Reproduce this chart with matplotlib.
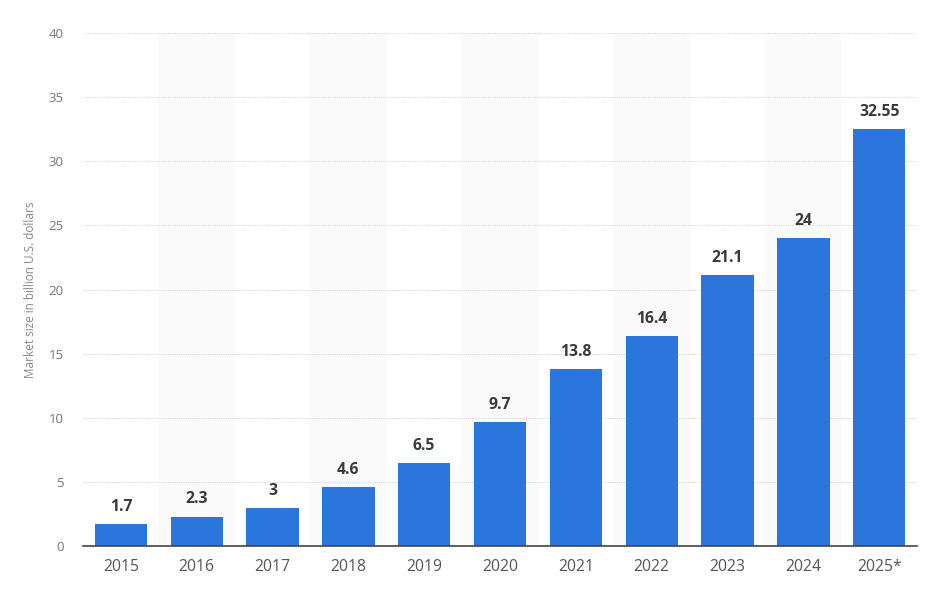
import matplotlib
matplotlib.use("Agg")
import matplotlib.pyplot as plt

years = ["2015", "2016", "2017", "2018", "2019", "2020", "2021", "2022", "2023", "2024", "2025*"]
values = [1.7, 2.3, 3, 4.6, 6.5, 9.7, 13.8, 16.4, 21.1, 24, 32.55]
labels = ["1.7", "2.3", "3", "4.6", "6.5", "9.7", "13.8", "16.4", "21.1", "24", "32.55"]
yticks = [0, 5, 10, 15, 20, 25, 30, 35, 40]

plt.rcParams['font.family'] = ['Open Sans', 'DejaVu Sans']

fig = plt.figure(figsize=(9.32, 5.97), dpi=100)
ax = fig.add_axes([0.089, 0.0854, 0.895, 0.8593])

x = list(range(len(years)))
for i in x:
    if i % 2 == 1:
        ax.axvspan(i - 0.5, i + 0.5, color="#fafafa", zorder=0, lw=0)

ax.bar(x, values, width=0.69, color="#2a76dd", zorder=3)
for i, (v, t) in enumerate(zip(values, labels)):
    ax.annotate(t, (i, v), xytext=(0, 6.5), textcoords="offset points",
                ha="center", va="bottom", fontsize=11.3, fontweight="bold", color="#3a3a3a")

ax.set_xlim(-0.5, len(years) - 0.5)
ax.set_ylim(0, 40)
ax.set_yticks(yticks)
ax.set_yticklabels([str(t) for t in yticks])
ax.set_xticks(x)
ax.set_xticklabels(years)
ax.yaxis.grid(True, linestyle=(0, (1, 1)), color="#d8d8d8", linewidth=0.8, zorder=1)
ax.set_axisbelow(True)
for s in ["top", "right", "left"]:
    ax.spines[s].set_visible(False)
ax.spines["bottom"].set_color("#444444")
ax.spines["bottom"].set_linewidth(1.2)
ax.spines["bottom"].set_zorder(4)
ax.tick_params(axis="y", length=0, labelsize=9.5, labelcolor="#777777", pad=14)
ax.tick_params(axis="x", length=0, labelsize=11.3, labelcolor="#555555", pad=9)
ax.set_ylabel("Market size in billion U.S. dollars", fontsize=8.5, color="#888888", labelpad=8)

fig.savefig("out.png", dpi=100, facecolor="white")
